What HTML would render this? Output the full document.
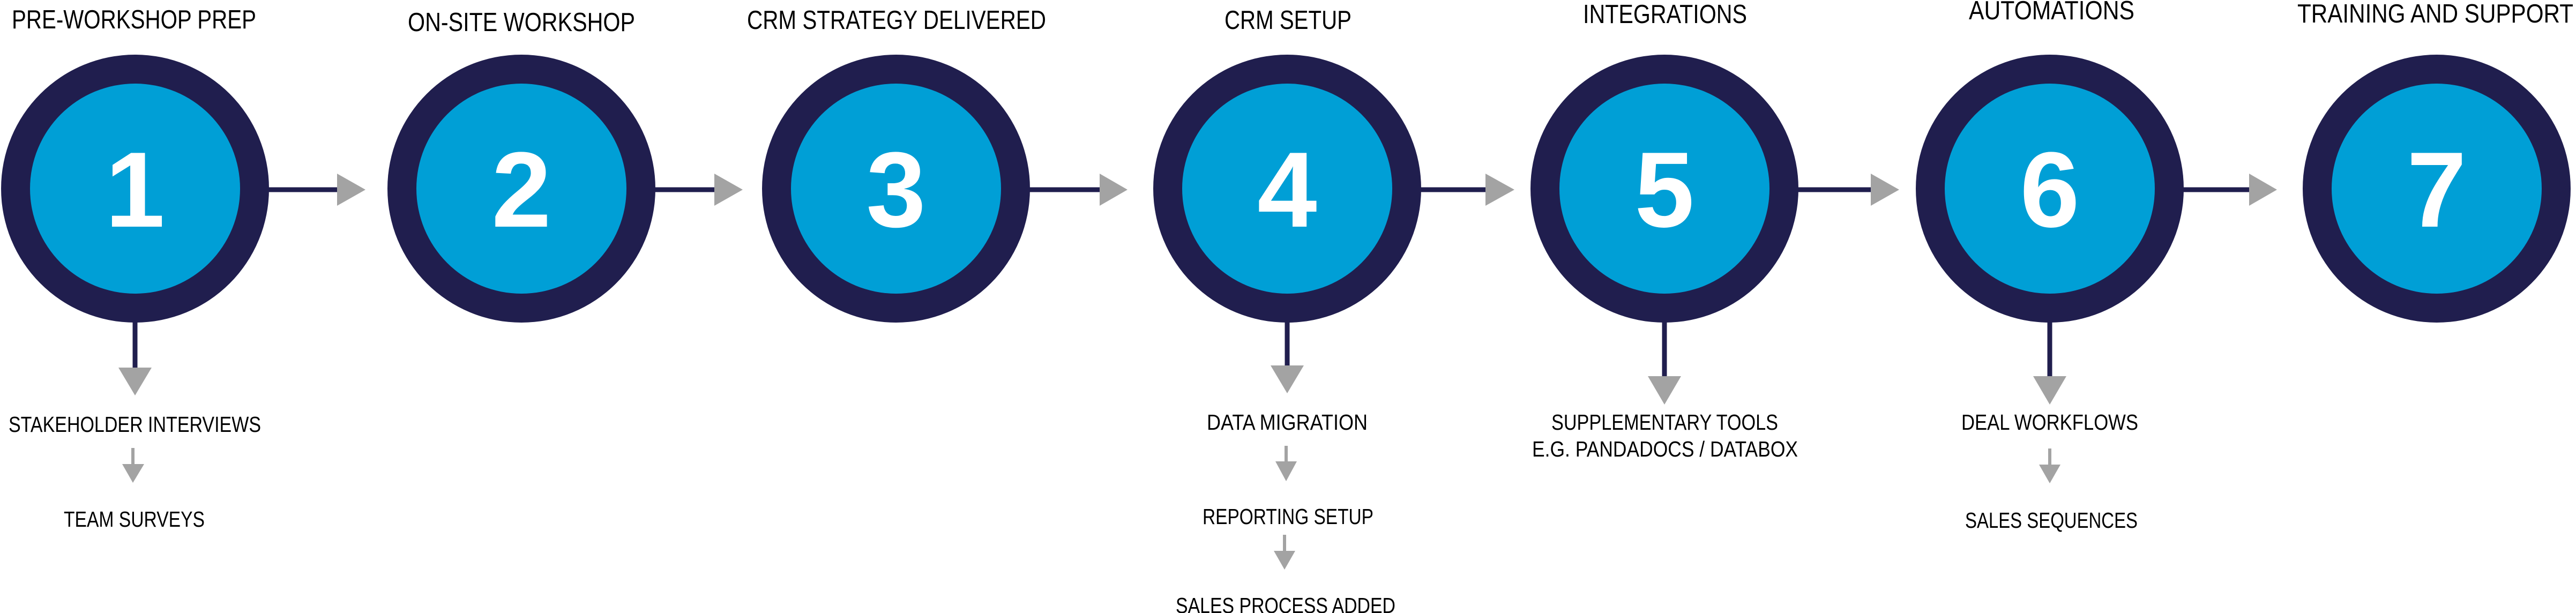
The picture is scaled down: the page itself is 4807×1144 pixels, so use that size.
<!DOCTYPE html>
<html><head><meta charset="utf-8"><style>
html,body{margin:0;padding:0;background:#fff;}
svg{display:block;}
.t{font-family:"Liberation Sans Narrow","Liberation Sans",sans-serif;fill:#000;}
.d{font-family:"Liberation Sans",sans-serif;font-weight:bold;fill:#fff;font-size:200px;}
</style></head><body>
<svg width="4807" height="1144" viewBox="0 0 4807 1144" xmlns="http://www.w3.org/2000/svg">
<g fill="#201e4e">
<circle cx="252" cy="352" r="250"/><circle cx="973" cy="352" r="250"/><circle cx="1672" cy="352" r="250"/>
<circle cx="2402" cy="352" r="250"/><circle cx="3106" cy="352" r="250"/><circle cx="3825" cy="352" r="250"/>
<circle cx="4547" cy="352" r="250"/>
</g>
<g fill="#009fd6">
<circle cx="252" cy="352" r="196"/><circle cx="973" cy="352" r="196"/><circle cx="1672" cy="352" r="196"/>
<circle cx="2402" cy="352" r="196"/><circle cx="3106" cy="352" r="196"/><circle cx="3825" cy="352" r="196"/>
<circle cx="4547" cy="352" r="196"/>
</g>
<g text-anchor="middle" class="d">
<text x="252" y="423" class="d">1</text><text x="973" y="423" class="d">2</text><text x="1672" y="423" class="d">3</text>
<text x="2402" y="423" class="d">4</text><text x="3106" y="423" class="d">5</text><text x="3825" y="423" class="d">6</text>
<text x="4547" y="423" class="d">7</text>
</g>
<!-- horizontal connectors -->
<g stroke="#201e4e" stroke-width="9">
<line x1="500" y1="354" x2="630" y2="354"/><line x1="1221" y1="354" x2="1334" y2="354"/>
<line x1="1920" y1="354" x2="2053" y2="354"/><line x1="2650" y1="354" x2="2773" y2="354"/>
<line x1="3354" y1="354" x2="3492" y2="354"/><line x1="4073" y1="354" x2="4198" y2="354"/>
</g>
<g fill="#a3a3a3">
<polygon points="629,324 682,354 629,384"/><polygon points="1333,324 1386,354 1333,384"/>
<polygon points="2052,324 2104,354 2052,384"/><polygon points="2772,324 2826,354 2772,384"/>
<polygon points="3491,324 3544,354 3491,384"/><polygon points="4197,324 4249,354 4197,384"/>
</g>
<!-- down connectors -->
<g stroke="#201e4e" stroke-width="9">
<line x1="252" y1="600" x2="252" y2="687"/><line x1="2402" y1="600" x2="2402" y2="683"/>
<line x1="3106" y1="600" x2="3106" y2="703"/><line x1="3825" y1="600" x2="3825" y2="703"/>
</g>
<g fill="#a3a3a3">
<polygon points="221,686 283,686 252,738"/><polygon points="2371,682 2433,682 2402,734"/>
<polygon points="3075,702 3137,702 3106,755"/><polygon points="3794,702 3856,702 3825,755"/>
</g>
<g stroke="#a3a3a3" stroke-width="6">
<line x1="248" y1="836" x2="248" y2="867"/><line x1="2400" y1="832" x2="2400" y2="862"/>
<line x1="2397" y1="998" x2="2397" y2="1029"/><line x1="3825" y1="837" x2="3825" y2="868"/>
</g>
<g fill="#a3a3a3">
<polygon points="228,866 269,866 248,901"/><polygon points="2380,861 2420,861 2400,898"/>
<polygon points="2377,1028 2417,1028 2397,1063"/><polygon points="3805,867 3845,867 3825,902"/>
</g>
<!-- titles -->
<g class="t" font-size="49" lengthAdjust="spacingAndGlyphs">
<text x="22" y="53" textLength="456" lengthAdjust="spacingAndGlyphs">PRE-WORKSHOP PREP</text>
<text x="761" y="58" textLength="424" lengthAdjust="spacingAndGlyphs">ON-SITE WORKSHOP</text>
<text x="1394" y="54" textLength="558" lengthAdjust="spacingAndGlyphs">CRM STRATEGY DELIVERED</text>
<text x="2285" y="54" textLength="237" lengthAdjust="spacingAndGlyphs">CRM SETUP</text>
<text x="2954" y="43" textLength="306" lengthAdjust="spacingAndGlyphs">INTEGRATIONS</text>
<text x="3674" y="36" textLength="309" lengthAdjust="spacingAndGlyphs">AUTOMATIONS</text>
<text x="4287" y="42" textLength="515" lengthAdjust="spacingAndGlyphs">TRAINING AND SUPPORT</text>
</g>
<g class="t" font-size="41">
<text x="16" y="806" textLength="471" lengthAdjust="spacingAndGlyphs">STAKEHOLDER INTERVIEWS</text>
<text x="119" y="983" textLength="263" lengthAdjust="spacingAndGlyphs">TEAM SURVEYS</text>
<text x="2252" y="802" textLength="300" lengthAdjust="spacingAndGlyphs">DATA MIGRATION</text>
<text x="2244" y="978" textLength="319" lengthAdjust="spacingAndGlyphs">REPORTING SETUP</text>
<text x="2194" y="1144" textLength="410" lengthAdjust="spacingAndGlyphs">SALES PROCESS ADDED</text>
<text x="2895" y="802" textLength="423" lengthAdjust="spacingAndGlyphs">SUPPLEMENTARY TOOLS</text>
<text x="2859" y="852" textLength="496" lengthAdjust="spacingAndGlyphs">E.G. PANDADOCS / DATABOX</text>
<text x="3660" y="802" textLength="330" lengthAdjust="spacingAndGlyphs">DEAL WORKFLOWS</text>
<text x="3667" y="985" textLength="322" lengthAdjust="spacingAndGlyphs">SALES SEQUENCES</text>
</g>
</svg>
</body></html>
